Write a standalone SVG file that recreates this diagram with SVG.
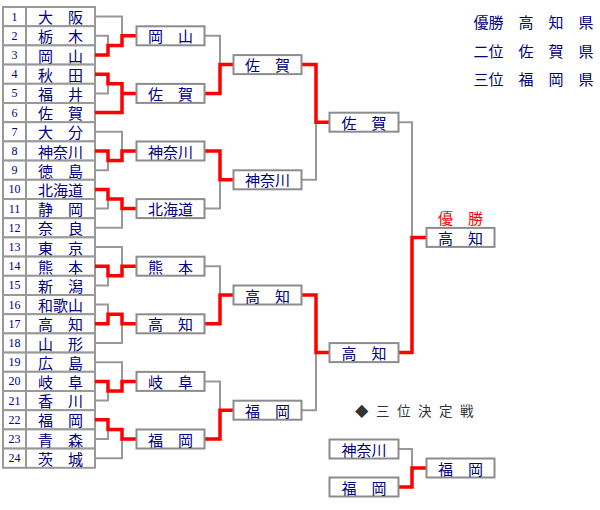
<svg xmlns="http://www.w3.org/2000/svg" width="600" height="510" viewBox="0 0 600 510">
<style>
.cell{fill:#fff;stroke:#999;stroke-width:2}
.box{fill:#fff;stroke:#8c8c8c;stroke-width:2}
.num{font-family:"Liberation Serif",serif;font-size:12px;fill:#000080;text-anchor:middle;dominant-baseline:central}
.nm{font-family:"Noto Sans CJK JP",sans-serif;font-size:15px;fill:#000080;text-anchor:middle;dominant-baseline:central}
.lg{font-family:"Noto Sans CJK JP",sans-serif;font-size:15px;fill:#000080;dominant-baseline:central}
.gray{fill:none;stroke:#999;stroke-width:2}
.red{fill:none;stroke:#f00;stroke-width:3.5}
</style>
<rect width="600" height="510" fill="#fff"/>
<g id="teams">
<g id="t1"><rect class="cell" x="3" y="7" width="23" height="19.2"/><rect class="cell" x="26" y="7" width="69" height="19.2"/><text class="num" x="14.5" y="16.6">1</text><text class="nm" x="60.5" y="16.6">大　阪</text></g>
<g id="t2"><rect class="cell" x="3" y="26.2" width="23" height="19.2"/><rect class="cell" x="26" y="26.2" width="69" height="19.2"/><text class="num" x="14.5" y="35.8">2</text><text class="nm" x="60.5" y="35.8">栃　木</text></g>
<g id="t3"><rect class="cell" x="3" y="45.4" width="23" height="19.2"/><rect class="cell" x="26" y="45.4" width="69" height="19.2"/><text class="num" x="14.5" y="55">3</text><text class="nm" x="60.5" y="55">岡　山</text></g>
<g id="t4"><rect class="cell" x="3" y="64.6" width="23" height="19.2"/><rect class="cell" x="26" y="64.6" width="69" height="19.2"/><text class="num" x="14.5" y="74.2">4</text><text class="nm" x="60.5" y="74.2">秋　田</text></g>
<g id="t5"><rect class="cell" x="3" y="83.8" width="23" height="19.2"/><rect class="cell" x="26" y="83.8" width="69" height="19.2"/><text class="num" x="14.5" y="93.4">5</text><text class="nm" x="60.5" y="93.4">福　井</text></g>
<g id="t6"><rect class="cell" x="3" y="103" width="23" height="19.2"/><rect class="cell" x="26" y="103" width="69" height="19.2"/><text class="num" x="14.5" y="112.6">6</text><text class="nm" x="60.5" y="112.6">佐　賀</text></g>
<g id="t7"><rect class="cell" x="3" y="122.2" width="23" height="19.2"/><rect class="cell" x="26" y="122.2" width="69" height="19.2"/><text class="num" x="14.5" y="131.8">7</text><text class="nm" x="60.5" y="131.8">大　分</text></g>
<g id="t8"><rect class="cell" x="3" y="141.4" width="23" height="19.2"/><rect class="cell" x="26" y="141.4" width="69" height="19.2"/><text class="num" x="14.5" y="151">8</text><text class="nm" x="60.5" y="151">神奈川</text></g>
<g id="t9"><rect class="cell" x="3" y="160.6" width="23" height="19.2"/><rect class="cell" x="26" y="160.6" width="69" height="19.2"/><text class="num" x="14.5" y="170.2">9</text><text class="nm" x="60.5" y="170.2">徳　島</text></g>
<g id="t10"><rect class="cell" x="3" y="179.8" width="23" height="19.2"/><rect class="cell" x="26" y="179.8" width="69" height="19.2"/><text class="num" x="14.5" y="189.4">10</text><text class="nm" x="60.5" y="189.4">北海道</text></g>
<g id="t11"><rect class="cell" x="3" y="199" width="23" height="19.2"/><rect class="cell" x="26" y="199" width="69" height="19.2"/><text class="num" x="14.5" y="208.6">11</text><text class="nm" x="60.5" y="208.6">静　岡</text></g>
<g id="t12"><rect class="cell" x="3" y="218.2" width="23" height="19.2"/><rect class="cell" x="26" y="218.2" width="69" height="19.2"/><text class="num" x="14.5" y="227.8">12</text><text class="nm" x="60.5" y="227.8">奈　良</text></g>
<g id="t13"><rect class="cell" x="3" y="237.4" width="23" height="19.2"/><rect class="cell" x="26" y="237.4" width="69" height="19.2"/><text class="num" x="14.5" y="247">13</text><text class="nm" x="60.5" y="247">東　京</text></g>
<g id="t14"><rect class="cell" x="3" y="256.6" width="23" height="19.2"/><rect class="cell" x="26" y="256.6" width="69" height="19.2"/><text class="num" x="14.5" y="266.2">14</text><text class="nm" x="60.5" y="266.2">熊　本</text></g>
<g id="t15"><rect class="cell" x="3" y="275.8" width="23" height="19.2"/><rect class="cell" x="26" y="275.8" width="69" height="19.2"/><text class="num" x="14.5" y="285.4">15</text><text class="nm" x="60.5" y="285.4">新　潟</text></g>
<g id="t16"><rect class="cell" x="3" y="295" width="23" height="19.2"/><rect class="cell" x="26" y="295" width="69" height="19.2"/><text class="num" x="14.5" y="304.6">16</text><text class="nm" x="60.5" y="304.6">和歌山</text></g>
<g id="t17"><rect class="cell" x="3" y="314.2" width="23" height="19.2"/><rect class="cell" x="26" y="314.2" width="69" height="19.2"/><text class="num" x="14.5" y="323.8">17</text><text class="nm" x="60.5" y="323.8">高　知</text></g>
<g id="t18"><rect class="cell" x="3" y="333.4" width="23" height="19.2"/><rect class="cell" x="26" y="333.4" width="69" height="19.2"/><text class="num" x="14.5" y="343">18</text><text class="nm" x="60.5" y="343">山　形</text></g>
<g id="t19"><rect class="cell" x="3" y="352.6" width="23" height="19.2"/><rect class="cell" x="26" y="352.6" width="69" height="19.2"/><text class="num" x="14.5" y="362.2">19</text><text class="nm" x="60.5" y="362.2">広　島</text></g>
<g id="t20"><rect class="cell" x="3" y="371.8" width="23" height="19.2"/><rect class="cell" x="26" y="371.8" width="69" height="19.2"/><text class="num" x="14.5" y="381.4">20</text><text class="nm" x="60.5" y="381.4">岐　阜</text></g>
<g id="t21"><rect class="cell" x="3" y="391" width="23" height="19.2"/><rect class="cell" x="26" y="391" width="69" height="19.2"/><text class="num" x="14.5" y="400.6">21</text><text class="nm" x="60.5" y="400.6">香　川</text></g>
<g id="t22"><rect class="cell" x="3" y="410.2" width="23" height="19.2"/><rect class="cell" x="26" y="410.2" width="69" height="19.2"/><text class="num" x="14.5" y="419.8">22</text><text class="nm" x="60.5" y="419.8">福　岡</text></g>
<g id="t23"><rect class="cell" x="3" y="429.4" width="23" height="19.2"/><rect class="cell" x="26" y="429.4" width="69" height="19.2"/><text class="num" x="14.5" y="439">23</text><text class="nm" x="60.5" y="439">青　森</text></g>
<g id="t24"><rect class="cell" x="3" y="448.6" width="23" height="19.2"/><rect class="cell" x="26" y="448.6" width="69" height="19.2"/><text class="num" x="14.5" y="458.2">24</text><text class="nm" x="60.5" y="458.2">茨　城</text></g>
</g>
<g id="connectors">
<path class="gray" d="M95 16.6H122V35.8M95 35.8H108V45.4"/>
<path class="gray" d="M95 93.4H108V83.8"/>
<path class="gray" d="M95 131.8H122V151M95 170.2H108V160.6"/>
<path class="gray" d="M95 208.6H108V199M95 227.8H122V208.6"/>
<path class="gray" d="M95 247H122V266.2M95 285.4H108V275.8"/>
<path class="gray" d="M95 304.6H108V314.2M95 343H122V323.8"/>
<path class="gray" d="M95 362.2H122V381.4M95 400.6H108V391"/>
<path class="gray" d="M95 439H108V429.4M95 458.2H122V439"/>
<path class="gray" d="M205 35.8H220V64.6M205 208.6H220V179.8M205 266.2H220V295M205 381.4H220V410.2"/>
<path class="gray" d="M302 179.8H316V122.2M302 410.2H316V352.6"/>
<path class="gray" d="M399 122.2H412V237.4"/>
<path class="gray" d="M399 449H412V468"/>
<path class="red" d="M95 55H108V45.4H122V35.8H136"/>
<path class="red" d="M95 74.2H108V83.8H122V112.6M95 112.6H122V93.4H136"/>
<path class="red" d="M95 151H108V160.6H122V151H136"/>
<path class="red" d="M95 189.4H108V199H122V208.6H136"/>
<path class="red" d="M95 266.2H108V275.8H122V266.2H136"/>
<path class="red" d="M95 323.8H108V314.2H122V323.8H136"/>
<path class="red" d="M95 381.4H108V391H122V381.4H136"/>
<path class="red" d="M95 419.8H108V429.4H122V439H136"/>
<path class="red" d="M205 93.4H220V64.6H233M205 151H220V179.8H233M205 323.8H220V295H233M205 439H220V410.2H233"/>
<path class="red" d="M302 64.6H316V122.2H329M302 295H316V352.6H329"/>
<path class="red" d="M399 352.6H412V237.4H426"/>
<path class="red" d="M399 487H412V468H426"/>
</g>
<g id="r2-okayama"><rect class="box" x="136.5" y="26.3" width="68" height="19"/><text class="nm" x="170.5" y="35.8">岡　山</text></g>
<g id="r2-saga"><rect class="box" x="136.5" y="83.9" width="68" height="19"/><text class="nm" x="170.5" y="93.4">佐　賀</text></g>
<g id="r2-kanagawa"><rect class="box" x="136.5" y="141.5" width="68" height="19"/><text class="nm" x="170.5" y="151">神奈川</text></g>
<g id="r2-hokkaido"><rect class="box" x="136.5" y="199.1" width="68" height="19"/><text class="nm" x="170.5" y="208.6">北海道</text></g>
<g id="r2-kumamoto"><rect class="box" x="136.5" y="256.7" width="68" height="19"/><text class="nm" x="170.5" y="266.2">熊　本</text></g>
<g id="r2-kochi"><rect class="box" x="136.5" y="314.3" width="68" height="19"/><text class="nm" x="170.5" y="323.8">高　知</text></g>
<g id="r2-gifu"><rect class="box" x="136.5" y="371.9" width="68" height="19"/><text class="nm" x="170.5" y="381.4">岐　阜</text></g>
<g id="r2-fukuoka"><rect class="box" x="136.5" y="429.5" width="68" height="19"/><text class="nm" x="170.5" y="439">福　岡</text></g>
<g id="r3-saga"><rect class="box" x="233.5" y="55.1" width="68" height="19"/><text class="nm" x="267.5" y="64.6">佐　賀</text></g>
<g id="r3-kanagawa"><rect class="box" x="233.5" y="170.3" width="68" height="19"/><text class="nm" x="267.5" y="179.8">神奈川</text></g>
<g id="r3-kochi"><rect class="box" x="233.5" y="285.5" width="68" height="19"/><text class="nm" x="267.5" y="295">高　知</text></g>
<g id="r3-fukuoka"><rect class="box" x="233.5" y="400.7" width="68" height="19"/><text class="nm" x="267.5" y="410.2">福　岡</text></g>
<g id="r4-saga"><rect class="box" x="329.5" y="112.7" width="69" height="19"/><text class="nm" x="364" y="122.2">佐　賀</text></g>
<g id="r4-kochi"><rect class="box" x="329.5" y="343.1" width="69" height="19"/><text class="nm" x="364" y="352.6">高　知</text></g>
<g id="final"><text class="nm" x="460.5" y="217" style="fill:#f00">優　勝</text><rect class="box" x="426.5" y="227.9" width="68" height="19"/><text class="nm" x="460.5" y="237.4">高　知</text></g>
<g id="third-title"><text x="355" y="410" style="font-family:'Noto Sans CJK JP',sans-serif;font-size:13.5px;fill:#333;dominant-baseline:central;letter-spacing:7.5px">◆三位決定戦</text></g>
<g id="third-kanagawa"><rect class="box" x="329.5" y="439.5" width="69" height="19"/><text class="nm" x="364" y="449">神奈川</text></g>
<g id="third-fukuoka"><rect class="box" x="329.5" y="477.5" width="69" height="19"/><text class="nm" x="364" y="487">福　岡</text></g>
<g id="third-winner"><rect class="box" x="426.5" y="458.5" width="68" height="19"/><text class="nm" x="460.5" y="468">福　岡</text></g>
<g id="legend">
<text class="lg" x="473.5" y="21.7">優勝　高　知　県</text>
<text class="lg" x="473.5" y="50">二位　佐　賀　県</text>
<text class="lg" x="473.5" y="78.3">三位　福　岡　県</text>
</g>
</svg>
